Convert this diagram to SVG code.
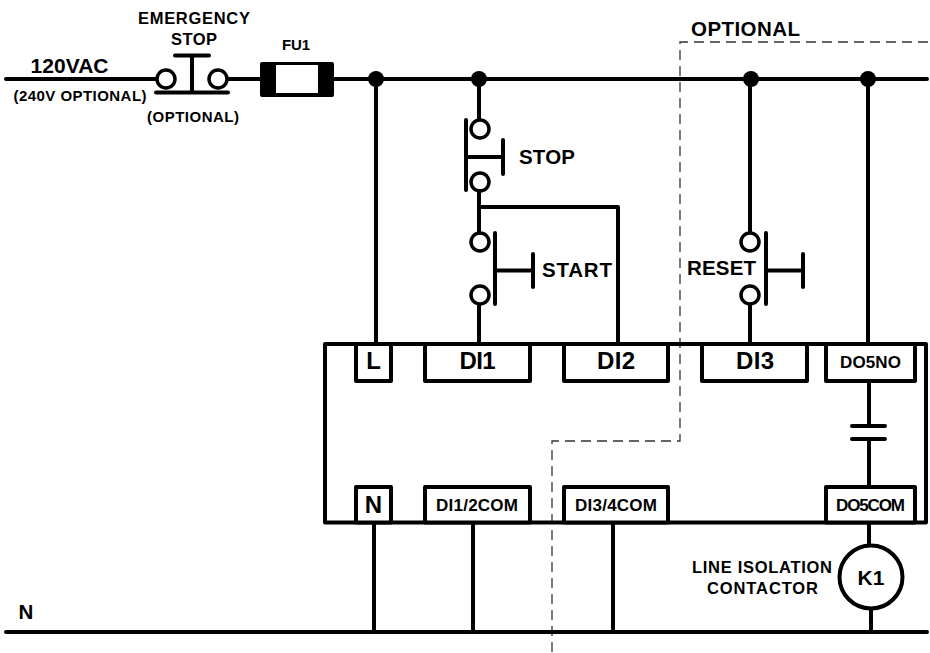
<svg xmlns="http://www.w3.org/2000/svg" width="930" height="653" viewBox="0 0 930 653">
<style>
.w{fill:none;stroke:#000;stroke-width:4;stroke-linecap:round;stroke-linejoin:round}
.t{fill:#fff;stroke:#000;stroke-width:4;stroke-linejoin:round}
.c{fill:#fff;stroke:#000;stroke-width:3.5}
.d{fill:none;stroke:#333;stroke-width:1.3;stroke-dasharray:10 6}
.j{fill:#000}
text{font-family:"Liberation Sans",Arial,sans-serif;font-weight:bold;fill:#000;text-anchor:middle}
.s14{font-size:15px}.s15{font-size:16.500px}.s16{font-size:17px}.s19{font-size:20.500px}.s20{font-size:21px}.s24{font-size:24px}
</style>
<rect width="930" height="653" fill="#fff"/>
<g id="optional-boundary">
<path class="d" d="M928 42H680V441H552V653"/>
</g>
<g id="connectors">
<path class="w" d="M6 79H157M227 79H260M334 79H927"/>
<path class="w" d="M6 632H927"/>
<path class="w" d="M376 79V344M479 79V120M479 191V233M479 207H618V344M479 304V344M750 79V233M750 304V344M868 79V344"/>
<path class="w" d="M374 522V632M473 522V632M613 522V632M869 381V426M869 439V487M869 522V546M871 608V632"/>
</g>
<g id="source">
<text class="s20" x="69.500" y="73" textLength="78" lengthAdjust="spacing">120VAC</text>
<text class="s14" x="80" y="101" textLength="133" lengthAdjust="spacing">(240V OPTIONAL)</text>
</g>
<g id="emergency-stop">
<circle class="c" cx="166" cy="79" r="9"/>
<circle class="c" cx="218" cy="79" r="9"/>
<path class="w" d="M156 92.500H228M192 56V92.500M175 55.500H209"/>
<text class="s15" x="194" y="24" textLength="112" lengthAdjust="spacing">EMERGENCY</text>
<text class="s15" x="194" y="45" textLength="46" lengthAdjust="spacing">STOP</text>
<text class="s14" x="193" y="122" textLength="92" lengthAdjust="spacing">(OPTIONAL)</text>
</g>
<g id="fu1">
<rect x="260" y="62" width="74" height="35" rx="2" fill="#000"/>
<rect x="276" y="65" width="42" height="28" fill="#fff"/>
<text class="s14" x="296" y="50" textLength="28" lengthAdjust="spacing">FU1</text>
</g>
<g id="junctions">
<circle class="j" cx="376" cy="79" r="8"/>
<circle class="j" cx="479" cy="79" r="8"/>
<circle class="j" cx="751" cy="79" r="8"/>
<circle class="j" cx="868" cy="79" r="8"/>
</g>
<g id="stop">
<circle class="c" cx="480" cy="129" r="9"/>
<circle class="c" cx="480" cy="182" r="9"/>
<path class="w" d="M466 120V190M466 157H503M503 140V174"/>
<text class="s19" x="547" y="163.500" textLength="56" lengthAdjust="spacing">STOP</text>
</g>
<g id="start">
<circle class="c" cx="480" cy="242" r="9"/>
<circle class="c" cx="480" cy="295" r="9"/>
<path class="w" d="M495 233V304M495 270.500H533M533 254V287"/>
<text class="s19" x="577" y="277" textLength="70" lengthAdjust="spacing">START</text>
</g>
<g id="reset">
<circle class="c" cx="750" cy="242" r="9"/>
<circle class="c" cx="750" cy="295" r="9"/>
<path class="w" d="M766 233V304M766 270.500H803M803 254V287"/>
<text class="s19" x="721.500" y="275" textLength="69" lengthAdjust="spacing">RESET</text>
</g>
<g id="controller">
<rect x="325" y="344" width="601" height="178.500" fill="none" stroke="#000" stroke-width="4" stroke-linejoin="round"/>
</g>
<g id="terminal-l"><rect class="t" x="356" y="344" width="35" height="37"/><text class="s24" x="373.500" y="369">L</text></g>
<g id="terminal-di1"><rect class="t" x="425" y="344" width="105" height="37"/><text class="s24" x="477.500" y="369" textLength="36" lengthAdjust="spacing">DI1</text></g>
<g id="terminal-di2"><rect class="t" x="564" y="344" width="104" height="37"/><text class="s24" x="616" y="369" textLength="38" lengthAdjust="spacing">DI2</text></g>
<g id="terminal-di3"><rect class="t" x="702" y="344" width="105" height="37"/><text class="s24" x="755" y="369" textLength="38" lengthAdjust="spacing">DI3</text></g>
<g id="terminal-do5no"><rect class="t" x="826" y="344" width="89" height="37"/><text class="s16" x="870.500" y="368" textLength="61" lengthAdjust="spacing">DO5NO</text></g>
<g id="do5-contact"><path class="w" d="M852 426H885M852 439H885"/></g>
<g id="terminal-n"><rect class="t" x="356" y="487" width="35" height="35.500"/><text class="s24" x="373.500" y="513">N</text></g>
<g id="terminal-di12com"><rect class="t" x="425" y="487" width="105" height="35.500"/><text class="s16" x="477" y="511" textLength="82" lengthAdjust="spacing">DI1/2COM</text></g>
<g id="terminal-di34com"><rect class="t" x="564" y="487" width="104" height="35.500"/><text class="s16" x="616" y="511" textLength="82" lengthAdjust="spacing">DI3/4COM</text></g>
<g id="terminal-do5com"><rect class="t" x="826" y="487" width="89" height="35.500"/><text class="s16" x="870.500" y="511" textLength="69" lengthAdjust="spacing">DO5COM</text></g>
<g id="k1">
<circle cx="871" cy="577" r="31.500" fill="#fff" stroke="#000" stroke-width="4"/>
<text class="s20" x="871" y="585">K1</text>
<text class="s15" x="762" y="573" textLength="140" lengthAdjust="spacing">LINE ISOLATION</text>
<text class="s15" x="762.500" y="594" textLength="111" lengthAdjust="spacing">CONTACTOR</text>
</g>
<g id="labels">
<text class="s19" x="745.500" y="36" textLength="109" lengthAdjust="spacing">OPTIONAL</text>
<text class="s19" x="26" y="619">N</text>
</g>
</svg>
